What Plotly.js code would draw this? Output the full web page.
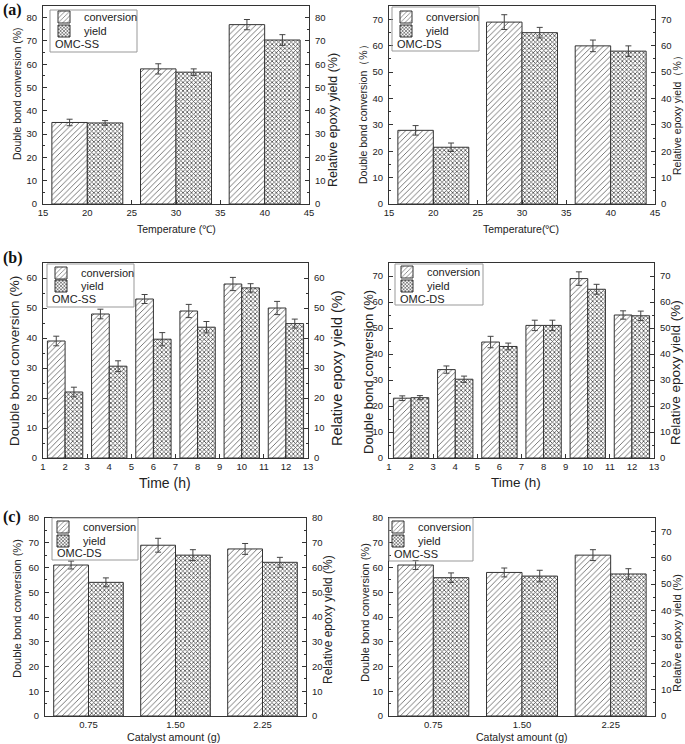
<!DOCTYPE html>
<html>
<head>
<meta charset="utf-8">
<script src="https://cdn.plot.ly/plotly-3.0.1.min.js"></script>
<style>
  html, body { margin: 0; padding: 0; background: #fff; }
  #plot { width: 685px; height: 744px; }
</style>
</head>
<body>
<div id="plot"></div>
<script>
// x categories for the three experiments
let tempC = [20, 30, 40];
let timeH = [2, 4, 6, 8, 10, 12];
let catalystG = ["0.75", "1.50", "2.25"];

// (a) temperature, OMC-SS and OMC-DS
let aSsConv = [35, 58, 77];
let aSsConvErr = [1.4, 2.2, 2.2];
let aSsYield = [34.8, 56.6, 70.4];
let aSsYieldErr = [1.0, 1.4, 2.3];
let aDsConv = [27.9, 68.9, 59.9];
let aDsConvErr = [1.8, 2.8, 2.2];
let aDsYield = [21.5, 64.9, 57.9];
let aDsYieldErr = [1.6, 2.0, 2.0];

// (b) time, OMC-SS and OMC-DS
let bSsConv = [39, 48, 53, 49, 58, 50];
let bSsConvErr = [1.6, 1.6, 1.5, 2.2, 2.2, 2.2];
let bSsYield = [22, 30.6, 39.6, 43.6, 56.7, 44.8];
let bSsYieldErr = [1.6, 1.8, 2.2, 1.9, 1.4, 1.5];
let bDsConv = [23, 34, 44.6, 51, 69, 55];
let bDsConvErr = [0.9, 1.4, 2.2, 2.0, 2.6, 1.6];
let bDsYield = [23.2, 30.3, 42.9, 51, 64.9, 54.7];
let bDsYieldErr = [0.8, 1.2, 1.3, 2.0, 1.9, 1.8];

// (c) catalyst amount, OMC-DS and OMC-SS (yield read on the right axis)
let cDsConv = [61, 69, 67.5];
let cDsConvErr = [1.6, 2.8, 2.2];
let cDsYield = [54, 65, 62.1];
let cDsYieldErr = [1.8, 2.2, 2.0];
let cSsConv = [61, 58, 65];
let cSsConvErr = [1.8, 1.8, 2.2];
let cSsYield = [52.4, 53.0, 53.8];
let cSsYieldErr = [1.8, 2.2, 2.0];

const W = 685, H = 744;
const FONT = "Liberation Sans, Arial, sans-serif";
const px = v => v / W;
const py = v => 1 - v / H;

// one entry per panel: pixel box of the plot area, axes and legend placement
let panels = [
  {x: tempC, conv: aSsConv, convErr: aSsConvErr, yld: aSsYield, yldErr: aSsYieldErr,
   box: [43, 309, 6, 204], xRange: [15, 45], xDtick: 5, yRange: [0, 85], y2Range: [0, 85],
   label: "OMC-SS", legendBox: [50, 137, 10, 52], textX: 84, rows: [17, 31], sampleY: 44,
   yTitle: "Double bond conversion (%)", y2Title: "Relative epoxy yield (%)", xTitle: "Temperature (℃)",
   yT: [17, 94, 10.5], y2T: [333, 120, 12.5], xT: [176, 229, 10.5]},
  {x: tempC, conv: aDsConv, convErr: aDsConvErr, yld: aDsYield, yldErr: aDsYieldErr,
   box: [389, 655, 6, 204], xRange: [15, 45], xDtick: 5, yRange: [0, 75], y2Range: [0, 75],
   label: "OMC-DS", legendBox: [392, 479, 7, 51], textX: 426, rows: [17, 31], sampleY: 44,
   yTitle: "Double bond conversion（%）", y2Title: "Relative epoxy yield（%）", xTitle: "Temperature(℃)",
   yT: [363, 112, 10.5], y2T: [677, 113, 10.5], xT: [521, 229, 10.5]},
  {x: timeH, conv: bSsConv, convErr: bSsConvErr, yld: bSsYield, yldErr: bSsYieldErr,
   box: [43, 308, 263, 458], xRange: [1, 13], xDtick: 1, yRange: [0, 65], y2Range: [0, 65],
   label: "OMC-SS", legendBox: [47, 134, 264, 307], textX: 81, rows: [273, 286], sampleY: 299,
   yTitle: "Double bond conversion (%)", y2Title: "Relative epoxy yield (%)", xTitle: "Time (h)",
   yT: [14, 361, 13.5], y2T: [337, 368, 14.5], xT: [165, 483, 14]},
  {x: timeH, conv: bDsConv, convErr: bDsConvErr, yld: bDsYield, yldErr: bDsYieldErr,
   box: [389, 654, 263, 458], xRange: [1, 13], xDtick: 1, yRange: [0, 75], y2Range: [0, 75],
   label: "OMC-DS", legendBox: [395, 483, 264, 305], textX: 427, rows: [272, 286], sampleY: 299,
   yTitle: "Double bond conversion (%)", y2Title: "Relative epoxy yield (%)", xTitle: "Time (h)",
   yT: [368, 372, 13], y2T: [675, 373, 13.5], xT: [516, 482, 13.5]},
  {x: catalystG, conv: cDsConv, convErr: cDsConvErr, yld: cDsYield, yldErr: cDsYieldErr,
   box: [45, 306, 518, 716], xRange: [-0.5, 2.5], xDtick: null, yRange: [0, 80], y2Range: [0, 80],
   label: "OMC-DS", legendBox: [52, 138, 518, 560], textX: 83, rows: [527, 541], sampleY: 553,
   yTitle: "Double bond conversion (%)", y2Title: "Relative epoxy yield (%)", xTitle: "Catalyst amount (g)",
   yT: [17, 609, 11], y2T: [328, 620, 12], xT: [173, 737, 10.7]},
  {x: catalystG, conv: cSsConv, convErr: cSsConvErr, yld: cSsYield, yldErr: cSsYieldErr,
   box: [389, 655, 518, 716], xRange: [-0.5, 2.5], xDtick: null, yRange: [0, 80], y2Range: [0, 75],
   label: "OMC-SS", legendBox: [389, 473, 518, 561], textX: 418, rows: [527, 541], sampleY: 554,
   yTitle: "Double bond conversion (%)", y2Title: "Relative epoxy yield (%)", xTitle: "Catalyst amount (g)",
   yT: [365, 613, 11], y2T: [677, 633, 11], xT: [522, 737, 10.5]}
];

let tickFont = {family: FONT, size: 9.5, color: "#222"};
let data = [];
let layout = {
  width: W, height: H,
  margin: {l: 0, r: 0, t: 0, b: 0},
  paper_bgcolor: "#fff", plot_bgcolor: "#fff",
  showlegend: true,
  bargap: 0.2,
  barmode: "group",
  font: {family: FONT, color: "#222"},
  shapes: [], annotations: []
};

function legendName(k) { return k === 1 ? "legend" : "legend" + k; }

panels.forEach(function(p, i) {
  let n = i + 1;
  let xId = n === 1 ? "x" : "x" + n;
  let yId = i === 0 ? "y" : "y" + (2 * i + 1);
  let y2Id = "y" + (2 * i + 2);
  let legConv = legendName(2 * i + 1);
  let legYield = legendName(2 * i + 2);
  let [l, r, t, b] = p.box;

  data.push({
    x: p.x, y: p.conv, name: "conversion", type: "bar",
    xaxis: xId, yaxis: yId, legend: legConv, showlegend: true,
    offsetgroup: "c", alignmentgroup: "g" + n,
    marker: {color: "#fff", line: {color: "#333", width: 1},
             pattern: {shape: "/", fgcolor: "#666", bgcolor: "#fff", size: 4, solidity: 0.22}},
    error_y: {type: "data", array: p.convErr, color: "#444", thickness: 1, width: 3}
  });
  data.push({
    x: p.x, y: p.yld, name: "yield", type: "bar",
    xaxis: xId, yaxis: y2Id, legend: legYield, showlegend: true,
    offsetgroup: "y", alignmentgroup: "g" + n,
    marker: {color: "#fff", line: {color: "#333", width: 1},
             pattern: {shape: "x", fgcolor: "#4a4a4a", bgcolor: "#fff", size: 3, solidity: 0.45}},
    error_y: {type: "data", array: p.yldErr, color: "#444", thickness: 1, width: 3}
  });

  let xa = {
    domain: [px(l), px(r)], anchor: yId, range: p.xRange,
    showline: true, linecolor: "#333", linewidth: 1, mirror: true,
    showgrid: false, zeroline: false, tickfont: tickFont
  };
  if (p.xDtick) {
    xa.type = "linear"; xa.dtick = p.xDtick; xa.tick0 = p.xRange[0];
    xa.ticks = "inside"; xa.ticklen = 4; xa.tickcolor = "#333";
  } else {
    xa.type = "category"; xa.ticks = "";
  }
  let ya = {
    domain: [py(b), py(t)], anchor: xId, range: p.yRange, dtick: 10,
    ticks: "inside", ticklen: 4, tickcolor: "#333",
    minor: {dtick: 5, ticks: "inside", ticklen: 2, tickcolor: "#333"},
    showline: true, linecolor: "#333", linewidth: 1,
    showgrid: false, zeroline: false, tickfont: tickFont, ticklabelstandoff: 3
  };
  let y2a = Object.assign({}, ya, {overlaying: yId, side: "right", range: p.y2Range});
  delete y2a.domain;

  layout["xaxis" + (n === 1 ? "" : n)] = xa;
  layout["yaxis" + (i === 0 ? "" : 2 * i + 1)] = ya;
  layout["yaxis" + (2 * i + 2)] = y2a;

  // one single-entry legend per row so rows sit as close as in the original
  [legConv, legYield].forEach(function(leg, k) {
    layout[leg] = {
      x: px(p.textX - 40), y: py(p.rows[k]), xanchor: "left", yanchor: "middle",
      bgcolor: "rgba(0,0,0,0)", borderwidth: 0, visible: true,
      font: {family: FONT, size: 11, color: "#222"}
    };
  });

  let [bl, br, bt, bb] = p.legendBox;
  layout.shapes.push({type: "rect", xref: "paper", yref: "paper",
    x0: px(bl), x1: px(br), y0: py(bb), y1: py(bt),
    line: {color: "#999", width: 1}});
  layout.annotations.push({xref: "paper", yref: "paper", x: px(bl + 3), y: py(p.sampleY),
    xanchor: "left", yanchor: "middle", showarrow: false, text: p.label,
    font: {family: FONT, size: 11, color: "#222"}});

  // axis titles
  layout.annotations.push({xref: "paper", yref: "paper", x: px(p.yT[0]), y: py(p.yT[1]),
    textangle: -90, showarrow: false, text: p.yTitle, xanchor: "center", yanchor: "middle",
    font: {family: FONT, size: p.yT[2], color: "#222"}});
  layout.annotations.push({xref: "paper", yref: "paper", x: px(p.y2T[0]), y: py(p.y2T[1]),
    textangle: -90, showarrow: false, text: p.y2Title, xanchor: "center", yanchor: "middle",
    font: {family: FONT, size: p.y2T[2], color: "#222"}});
  layout.annotations.push({xref: "paper", yref: "paper", x: px(p.xT[0]), y: py(p.xT[1]),
    showarrow: false, text: p.xTitle, xanchor: "center", yanchor: "middle",
    font: {family: FONT, size: p.xT[2], color: "#222"}});
});

// panel letters
[["(a)", 10], ["(b)", 258], ["(c)", 517]].forEach(function(lab) {
  layout.annotations.push({xref: "paper", yref: "paper", x: px(1), y: py(lab[1]),
    xanchor: "left", yanchor: "middle", showarrow: false, text: "<b>" + lab[0] + "</b>",
    font: {family: "Liberation Serif, Times New Roman, serif", size: 16, color: "#111"}});
});

Plotly.newPlot("plot", data, layout, {staticPlot: true});
</script>
</body>
</html>
